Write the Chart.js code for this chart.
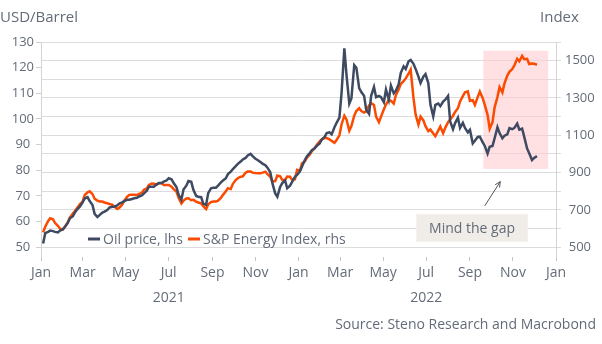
<!DOCTYPE html>
<html>
<head>
<meta charset="utf-8">
<script src="https://cdn.jsdelivr.net/npm/chart.js@4.4.0/dist/chart.umd.min.js"></script>
<style>
  body { margin: 0; background: #fff; }
  canvas { display: block; }
</style>
</head>
<body>
<canvas id="chart" width="602" height="344"></canvas>
<script>
// Data: readings on Mondays (dates) and on the Thursday after (…Mid)

const dates = [
  '2021-01-04','2021-01-11','2021-01-18','2021-01-25','2021-02-01','2021-02-08','2021-02-15','2021-02-22',
  '2021-03-01','2021-03-08','2021-03-15','2021-03-22','2021-03-29','2021-04-05','2021-04-12','2021-04-19',
  '2021-04-26','2021-05-03','2021-05-10','2021-05-17','2021-05-24','2021-05-31','2021-06-07','2021-06-14',
  '2021-06-21','2021-06-28','2021-07-05','2021-07-12','2021-07-19','2021-07-26','2021-08-02','2021-08-09',
  '2021-08-16','2021-08-23','2021-08-30','2021-09-06','2021-09-13','2021-09-20','2021-09-27','2021-10-04',
  '2021-10-11','2021-10-18','2021-10-25','2021-11-01','2021-11-08','2021-11-15','2021-11-22','2021-11-29',
  '2021-12-06','2021-12-13','2021-12-20','2021-12-27',
  '2022-01-03','2022-01-10','2022-01-17','2022-01-24','2022-01-31','2022-02-07','2022-02-14','2022-02-21',
  '2022-02-28','2022-03-07','2022-03-14','2022-03-21','2022-03-28','2022-04-04','2022-04-11','2022-04-18',
  '2022-04-25','2022-05-02','2022-05-09','2022-05-16','2022-05-23','2022-05-30','2022-06-06','2022-06-13',
  '2022-06-20','2022-06-27','2022-07-04','2022-07-11','2022-07-18','2022-07-25','2022-08-01','2022-08-08',
  '2022-08-15','2022-08-22','2022-08-29','2022-09-05','2022-09-12','2022-09-19','2022-09-26','2022-10-03',
  '2022-10-10','2022-10-17','2022-10-24','2022-10-31','2022-11-07','2022-11-14','2022-11-21','2022-11-28',
  '2022-12-05'
];

const oilPrice = [
  51.5, 56.0, 56.3, 55.8, 57.0, 59.5, 62.0, 65.0, 67.5, 69.5, 66.5, 61.8, 63.5, 64.5, 65.8, 66.3,
  67.5, 68.5, 68.8, 69.3, 70.2, 72.0, 73.6, 74.5, 75.0, 76.0, 76.5, 73.5, 68.5, 74.0, 75.5, 70.0,
  69.5, 66.5, 73.0, 73.2, 75.3, 76.9, 79.5, 81.6, 83.4, 84.8, 86.4, 84.5, 83.2, 82.0, 79.2, 71.0,
  73.5, 76.0, 74.0, 77.5,
  79.6, 84.0, 86.7, 88.6, 90.5, 93.0, 94.8, 96.8, 100.5, 127.5, 106.0, 121.0, 112.0, 109.0, 102.0, 112.5,
  109.0, 106.5, 107.5, 110.0, 113.5, 120.5, 122.5, 121.5, 116.5, 116.5, 114.0, 101.0, 106.0, 106.8, 109.0, 96.0,
  100.5, 98.5, 94.8, 90.5, 93.0, 91.0, 86.5, 89.5, 96.8, 92.5, 94.0, 96.0, 98.2, 96.2, 88.5, 84.0,
  85.5
];

const oilPriceMid = [
  55.5, 56.5, 56.0, 56.5, 58.0, 61.3, 63.5, 65.8, 69.0, 68.0, 63.0, 62.5, 63.9, 65.5, 65.8, 67.0,
  68.0, 68.5, 69.1, 69.8, 71.0, 73.6, 73.6, 75.0, 75.6, 76.9, 75.0, 70.5, 72.5, 75.8, 72.4, 69.7,
  67.0, 71.1, 73.2, 74.0, 76.0, 78.5, 80.5, 82.5, 84.2, 85.8, 85.5, 84.0, 82.6, 81.0, 75.0, 69.7,
  75.0, 73.0, 75.5, 78.2,
  81.5, 85.5, 87.8, 89.5, 92.0, 94.5, 94.0, 98.5, 110.0, 117.3, 108.0, 120.0, 110.5, 103.5, 109.0, 108.5,
  108.5, 111.5, 113.0, 111.0, 118.0, 119.5, 123.0, 119.5, 114.0, 117.5, 105.6, 105.5, 105.0, 107.5, 99.0, 98.4,
  96.5, 96.5, 95.8, 91.5, 93.1, 89.5, 89.2, 92.5, 94.5, 93.5, 96.4, 96.5, 95.8, 93.0, 86.6, 84.8
];

const energyIndex = [
  580, 640, 650, 615, 595, 635, 680, 715, 745, 795, 785, 750, 745, 736, 728, 705,
  728, 770, 782, 780, 792, 815, 842, 836, 843, 834, 825, 798, 735, 762, 752, 745,
  735, 705, 742, 745, 765, 800, 812, 860, 878, 900, 906, 898, 897, 905, 878, 855,
  880, 862, 878, 865,
  910, 960, 997, 1032, 1068, 1085, 1078, 1060, 1100, 1205, 1125, 1205, 1245, 1222, 1260, 1262,
  1170, 1240, 1290, 1270, 1345, 1390, 1430, 1300, 1158, 1180, 1122, 1110, 1125, 1111, 1170, 1205,
  1245, 1310, 1335, 1288, 1305, 1300, 1210, 1170, 1305, 1330, 1420, 1455, 1510, 1525, 1510, 1485,
  1478
];

const energyIndexMid = [
  610, 656, 630, 600, 610, 660, 695, 730, 780, 800, 760, 745, 740, 732, 718, 712,
  750, 781, 781, 786, 808, 834, 840, 843, 834, 834, 812, 765, 750, 763, 754, 740,
  720, 730, 745, 750, 781, 817, 840, 870, 880, 906, 900, 897, 900, 892, 852, 885,
  861, 879, 861, 915,
  950, 980, 1015, 1050, 1078, 1085, 1070, 1075, 1158, 1185, 1150, 1230, 1230, 1228, 1272, 1200,
  1200, 1265, 1285, 1315, 1375, 1405, 1452, 1211, 1200, 1149, 1131, 1095, 1147, 1140, 1185, 1225,
  1281, 1330, 1285, 1263, 1335, 1263, 1135, 1250, 1358, 1378, 1440, 1475, 1497, 1508, 1482, 1483
];

const leftTicks = [50, 60, 70, 80, 90, 100, 110, 120, 130];
const rightTicks = [500, 600, 700, 800, 900, 1000, 1100, 1200, 1300, 1400, 1500, 1600];
const rightLabels = [500, 700, 900, 1100, 1300, 1500];
const monthTicks = [
  '2021-01-01','2021-03-01','2021-05-01','2021-07-01','2021-09-01','2021-11-01',
  '2022-01-01','2022-03-01','2022-05-01','2022-07-01','2022-09-01','2022-11-01','2023-01-01'
];
const monthLabels = ['Jan','Mar','May','Jul','Sep','Nov','Jan','Mar','May','Jul','Sep','Nov','Jan'];
const yearLabels = {3: '2021', 9: '2022'};

// Annotations (data coordinates, right axis)
const gapBox = {from: '2022-09-20', to: '2022-12-21', low: 920, high: 1554};
const noteBox = {from: '2022-06-17', to: '2022-11-22', low: 530, high: 677, text: 'Mind the gap'};
const noteArrow = {from: ['2022-09-22', 722], to: ['2022-10-14', 852]};

const textColor = '#646b78';
const fontFamily = "'Open Sans', sans-serif";
const oilColor = '#3e4a61';
const energyColor = '#fa4b00';

function dayOf(s) {
  const [y, m, d] = s.split('-').map(Number);
  return (Date.UTC(y, m - 1, d) - Date.UTC(2021, 0, 1)) / 864e5;
}

function series(mon, thu) {
  const pts = [];
  dates.forEach((d, i) => {
    pts.push({x: dayOf(d), y: mon[i]});
    if (i < thu.length) pts.push({x: dayOf(d) + 3, y: thu[i]});
  });
  return pts;
}

// Extra drawing

const extras = {
  id: 'extras',
  beforeDatasetsDraw(chart) {
    const {ctx, scales: {x, yR}} = chart;
    const x0 = x.getPixelForValue(dayOf(gapBox.from)),
          x1 = x.getPixelForValue(dayOf(gapBox.to)),
          y0 = yR.getPixelForValue(gapBox.high),
          y1 = yR.getPixelForValue(gapBox.low);
    ctx.save();
    ctx.fillStyle = 'rgba(255, 205, 210, 0.6)';
    ctx.fillRect(x0, y0, x1 - x0, y1 - y0);
    ctx.restore();
  },
  afterDatasetsDraw(chart) {
    const {ctx, chartArea, scales: {x, yR}} = chart;
    ctx.save();

    // legend
    const items = [['Oil price, lhs', oilColor], ['S&P Energy Index, rhs', energyColor]];
    ctx.font = '14px ' + fontFamily;
    ctx.textBaseline = 'middle';
    let lx = chartArea.left + 47;
    const ly = chartArea.bottom - 18;
    items.forEach(([label, color]) => {
      ctx.strokeStyle = color;
      ctx.lineWidth = 3;
      ctx.beginPath();
      ctx.moveTo(lx, ly);
      ctx.lineTo(lx + 12, ly);
      ctx.stroke();
      ctx.fillStyle = textColor;
      ctx.fillText(label, lx + 15, ly + 1);
      lx += 15 + ctx.measureText(label).width + 5;
    });

    // note box
    const nx0 = x.getPixelForValue(dayOf(noteBox.from)),
          nx1 = x.getPixelForValue(dayOf(noteBox.to)),
          ny0 = yR.getPixelForValue(noteBox.high),
          ny1 = yR.getPixelForValue(noteBox.low);
    ctx.fillStyle = '#f0ece8';
    ctx.fillRect(nx0, ny0, nx1 - nx0, ny1 - ny0);
    ctx.fillStyle = textColor;
    ctx.textAlign = 'center';
    ctx.fillText(noteBox.text, (nx0 + nx1) / 2, (ny0 + ny1) / 2 + 1);

    // arrow
    const ax0 = x.getPixelForValue(dayOf(noteArrow.from[0])),
          ay0 = yR.getPixelForValue(noteArrow.from[1]),
          ax1 = x.getPixelForValue(dayOf(noteArrow.to[0])),
          ay1 = yR.getPixelForValue(noteArrow.to[1]);
    const ang = Math.atan2(ay1 - ay0, ax1 - ax0);
    ctx.strokeStyle = '#505560';
    ctx.lineWidth = 1;
    ctx.beginPath();
    ctx.moveTo(ax0, ay0);
    ctx.lineTo(ax1, ay1);
    ctx.moveTo(ax1 - 6 * Math.cos(ang - 0.45), ay1 - 6 * Math.sin(ang - 0.45));
    ctx.lineTo(ax1, ay1);
    ctx.lineTo(ax1 - 6 * Math.cos(ang + 0.45), ay1 - 6 * Math.sin(ang + 0.45));
    ctx.stroke();

    // titles and source
    ctx.font = '15px ' + fontFamily;
    ctx.textAlign = 'left';
    ctx.fillText('USD/Barrel', 0, 18);
    ctx.fillText('Index', 540, 18);
    ctx.font = '14px ' + fontFamily;
    ctx.textAlign = 'right';
    ctx.fillText('Source: Steno Research and Macrobond', 596, 325);
    ctx.restore();
  }
};

// Chart

const chartCanvas = document.getElementById('chart');

let energyChart = new Chart(chartCanvas, {
  type: 'line',
  data: {
    datasets: [{
      label: 'Oil price, lhs',
      data: series(oilPrice, oilPriceMid),
      yAxisID: 'yL',
      borderColor: oilColor,
      borderWidth: 2.5,
      pointRadius: 0,
      tension: 0
    }, {
      label: 'S&P Energy Index, rhs',
      data: series(energyIndex, energyIndexMid),
      yAxisID: 'yR',
      borderColor: energyColor,
      borderWidth: 2.5,
      pointRadius: 0,
      tension: 0
    }]
  },
  options: {
    responsive: false,
    animation: false,
    events: [],
    layout: { padding: { top: 42, left: 0, right: 0, bottom: 0 } },
    plugins: { legend: { display: false }, tooltip: { enabled: false } },
    scales: {
      x: {
        type: 'linear',
        min: 0,
        max: 730,
        afterBuildTicks: s => { s.ticks = monthTicks.map(m => ({value: dayOf(m)})); },
        afterFit: s => { s.height = 87; },
        ticks: {
          autoSkip: false,
          maxRotation: 0,
          padding: 0,
          color: textColor,
          font: { family: fontFamily, size: 14, lineHeight: 1.75 },
          callback: (v, i) => yearLabels[i] ? [monthLabels[i], yearLabels[i]] : monthLabels[i]
        },
        grid: { drawOnChartArea: false, tickLength: 4, color: '#c4c4c4' },
        border: { display: false }
      },
      yL: {
        position: 'left',
        min: 46.2,
        max: 130,
        afterBuildTicks: s => { s.ticks = leftTicks.map(v => ({value: v})); },
        afterFit: s => { s.width = 41; },
        ticks: {
          crossAlign: 'center',
          padding: 2,
          color: textColor,
          font: { family: fontFamily, size: 13 }
        },
        grid: { drawOnChartArea: false, tickLength: 5, color: '#cfcfcf' },
        border: { display: true, color: '#d4d4d4' }
      },
      yR: {
        position: 'right',
        min: 448,
        max: 1600,
        afterBuildTicks: s => { s.ticks = rightTicks.map(v => ({value: v})); },
        afterFit: s => { s.width = 46; },
        ticks: {
          crossAlign: 'center',
          padding: 4,
          color: textColor,
          font: { family: fontFamily, size: 13 },
          callback: v => rightLabels.includes(v) ? v : ''
        },
        grid: { tickLength: 5, color: '#dcdcdc' },
        border: { display: true, color: '#d4d4d4' }
      }
    }
  },
  plugins: [extras]
});
</script>
</body>
</html>
